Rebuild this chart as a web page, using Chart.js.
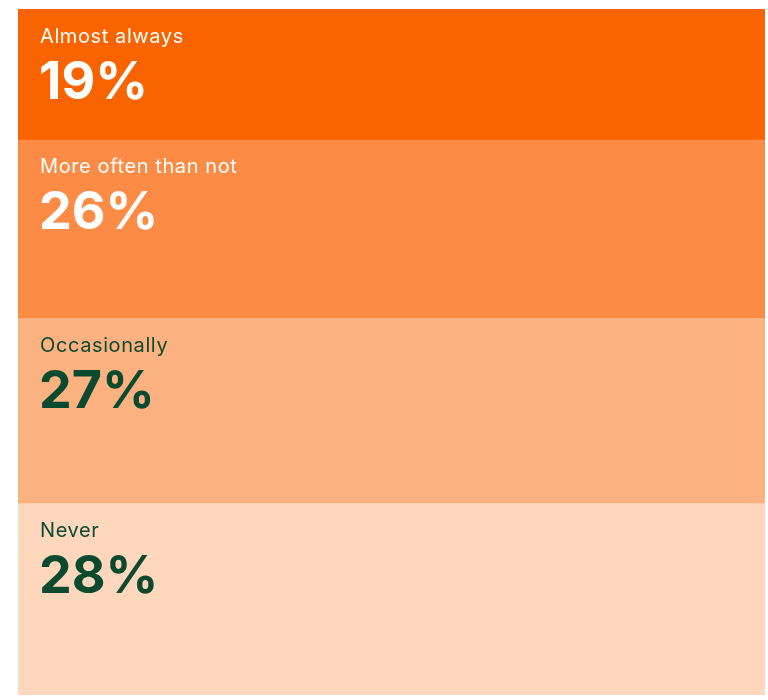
<!DOCTYPE html>
<html>
<head>
<meta charset="utf-8">
<script src="https://cdn.jsdelivr.net/npm/chart.js@4"></script>
<style>
  html, body { margin: 0; padding: 0; background: #ffffff; }
  #wrap { width: 768px; height: 700px; }
</style>
</head>
<body>
<div id="wrap"><canvas id="chart"></canvas></div>
<script>
// answer shares, top to bottom
const answers = ['Almost always', 'More often than not', 'Occasionally', 'Never'];
const shares = [19, 26, 27, 28];
const fills = ['#fa6400', '#fc8b45', '#fbb280', '#fed7bd'];
const inks = ['#ffffff', '#ffffff', '#0b4a2e', '#0b4a2e'];

// writes the answer and its percentage into the top-left of each block
const blockLabels = {
    id: 'blockLabels',
    afterDatasetsDraw(chart) {
        const ctx = chart.ctx;
        ctx.save();
        ctx.textAlign = 'left';
        ctx.textBaseline = 'alphabetic';
        chart.data.datasets.forEach((ds, i) => {
            const bar = chart.getDatasetMeta(i).data[0];
            if (!bar) return;
            const top = Math.min(bar.y, bar.base);
            const left = bar.x - bar.width / 2 + 22;
            ctx.fillStyle = inks[i];
            ctx.letterSpacing = '0.6px';
            ctx.font = '400 20px Inter, "Noto Sans", sans-serif';
            ctx.fillText(ds.label, left, top + 34);
            ctx.letterSpacing = '0px';
            ctx.font = '700 52px Inter, "Noto Sans", sans-serif';
            ctx.fillText(ds.data[0] + '%', left - 1, top + 90);
        });
        ctx.restore();
    }
};

new Chart(document.getElementById('chart'), {
    type: 'bar',
    data: {
        labels: [''],
        datasets: answers.map((a, i) => ({
            label: a,
            data: [shares[i]],
            backgroundColor: fills[i],
            borderWidth: 0,
            barPercentage: 1,
            categoryPercentage: 1
        }))
    },
    options: {
        responsive: true,
        maintainAspectRatio: false,
        animation: false,
        layout: { padding: { left: 18, right: 3, top: 9, bottom: 5 } },
        plugins: {
            legend: { display: false },
            tooltip: { enabled: false }
        },
        scales: {
            x: { stacked: true, display: false },
            y: { stacked: true, display: false, reverse: true, min: 0, max: 100 }
        }
    },
    plugins: [blockLabels]
});
</script>
</body>
</html>
